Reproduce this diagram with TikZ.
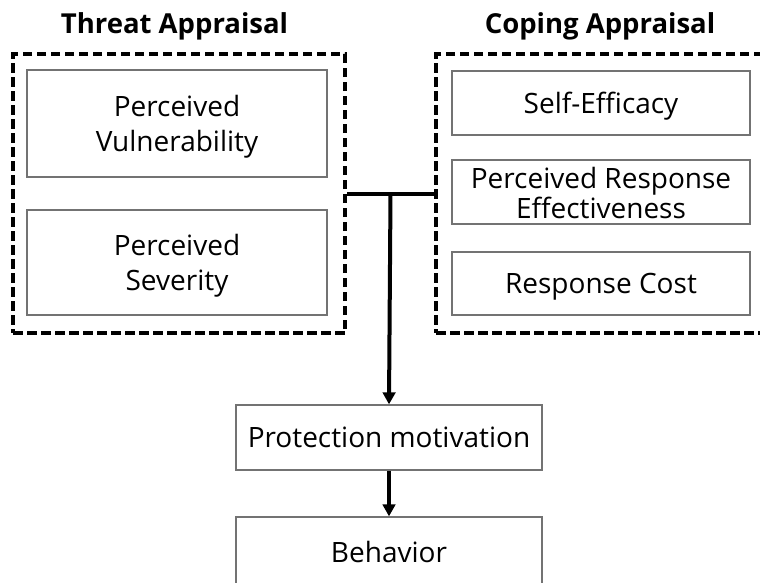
\documentclass[tikz,border=0pt]{standalone}
\usepackage{fontspec}
\setmainfont{Open Sans}
\usetikzlibrary{arrows.meta,calc}
\begin{document}
\begin{tikzpicture}[x=1pt,y=-1pt,
  inbox/.style={draw=black!55,line width=1.3pt,minimum width=300pt,align=center,inner sep=0pt,
    font=\fontsize{28}{35}\selectfont,text height=20pt,text depth=0pt},
  twoline/.style={text height=55pt},
  groupbox/.style={draw=black,line width=4pt,dash pattern=on 9.5pt off 4.5pt,inner sep=0pt},
  grouptitle/.style={font=\bfseries\fontsize{27.5}{30}\selectfont,inner sep=0pt,anchor=base},
  conn/.style={draw=black,line width=4pt},
  arr/.style={conn,-{Triangle[length=12pt,width=12.5pt]}}]
\useasboundingbox (0,0) rectangle (760,582);
\clip (0,0) rectangle (760,582);
% group frames
\node[groupbox,minimum width=332pt,minimum height=279pt] (tbox) at (179,193.5) {};
\node[groupbox,minimum width=339pt,minimum height=279pt] (cbox) at (605.5,193.5) {};
% titles
\node[grouptitle] (ttitle) at (174.5,33) {Threat Appraisal};
\node[grouptitle] (ctitle) at (600,33) {Coping Appraisal};
% threat items
\node[inbox,twoline,minimum height=107pt] (vul) at (177,123.5)
  {\begin{tabular}[b]{@{}c@{}}Perceived\\Vulnerability\end{tabular}};
\node[inbox,twoline,minimum height=105pt] (sev) at (177,262.5)
  {\begin{tabular}[b]{@{}c@{}}Perceived\\Severity\end{tabular}};
% coping items
\node[inbox,minimum width=298pt,minimum height=64pt] (se) at (601,103) {Self-Efficacy};
\node[inbox,minimum width=298pt,minimum height=64pt,font=\fontsize{28}{27}\selectfont,text height=52pt] (pre) at (601,192)
  {\begin{tabular}[b]{@{}c@{}}Perceived Response\\Effectiveness\end{tabular}};
\node[inbox,minimum width=298pt,minimum height=63pt] (rc) at (601,283.5) {Response Cost};
% outcomes
\node[inbox,minimum width=306pt,minimum height=65pt] (pm) at (389,437.5) {Protection motivation};
\node[inbox,minimum width=306pt,minimum height=71pt] (beh) at (389,552.5) {Behavior};
% connectors
\coordinate (J) at ($(tbox.east)!0.5!(cbox.west)$);
\draw[conn] (tbox.east) -- (cbox.west);
\draw[arr] (J) -- (pm.north);
\draw[arr] (pm.south) -- (beh.north);
\end{tikzpicture}
\end{document}
